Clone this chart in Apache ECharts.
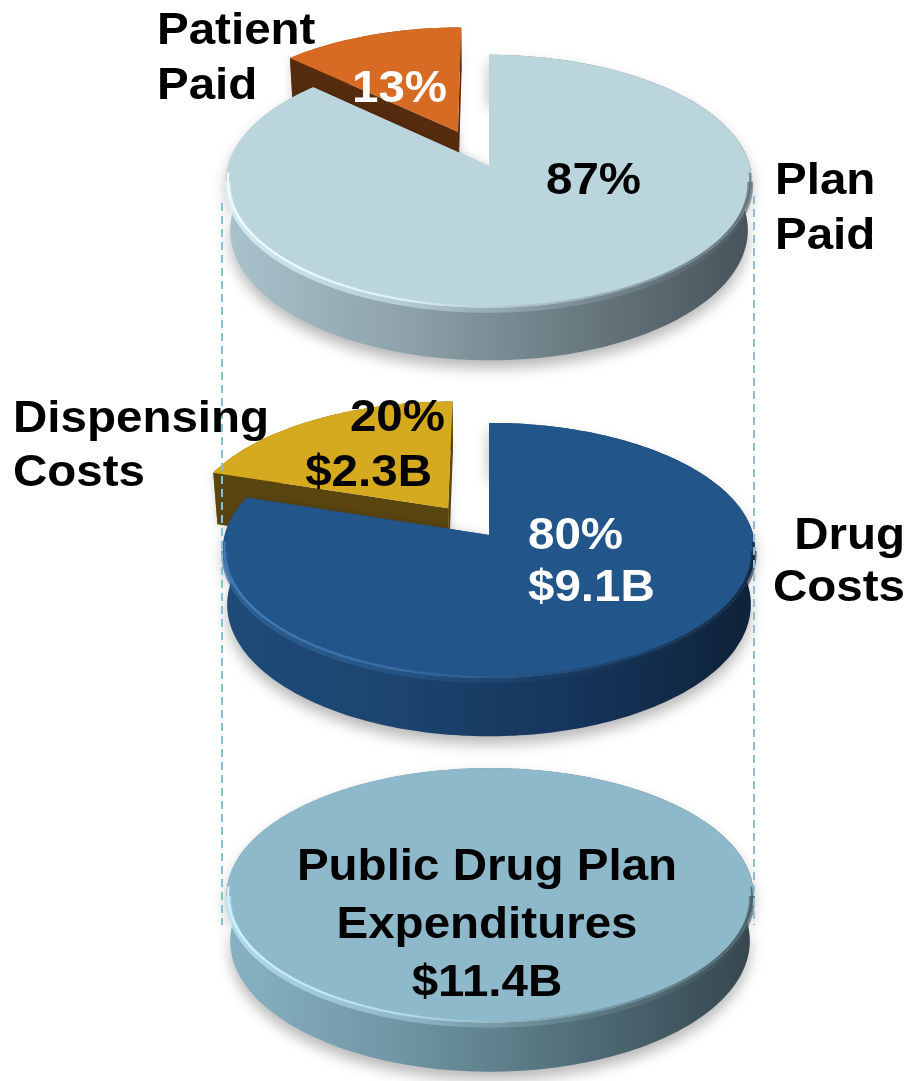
<!DOCTYPE html>
<html>
<head>
<meta charset="utf-8">
<script src="https://cdn.jsdelivr.net/npm/echarts@6/dist/echarts.min.js"></script>
<style>
  html, body { margin: 0; padding: 0; background: #ffffff; }
  #chart { width: 909px; height: 1081px; }
</style>
</head>
<body>
<div id="chart"></div>
<script>
// Who pays: share of plan spending (percent)
const payerLines = [['Patient', 'Paid'], ['Plan', 'Paid']];
const payerShares = [13, 87];

// What the money buys: share (percent) and amount (billions)
const costLines = [['Dispensing', 'Costs'], ['Drug', 'Costs']];
const costShares = [20, 80];
const costAmounts = [2.3, 9.1];

// Total public drug plan spending (billions)
const totalLines = ['Public Drug Plan', 'Expenditures'];
const totalAmount = 11.4;

// ---- simple perspective camera for the extruded pies ----
const DEG = Math.PI / 180;
const TILT = 30 * DEG;      // camera elevation
const DIST = 7.3;           // camera distance, in pie radii
const CT = Math.cos(TILT), ST = Math.sin(TILT);

// x: right, y: up (height), z: away from viewer; returns unit screen coords
function project(x, y, z) {
  const u = y * CT + z * ST;
  const w = z * CT - y * ST;
  const k = DIST / (DIST + w);
  return [x * k, u * k];
}
const Y_MIN = -0.5, Y_MAX = 0.7;

function sliceAngles(values) {
  const total = values.reduce((a, b) => a + b, 0);
  let acc = 90;
  return values.map(v => {
    const a1 = acc;
    acc += 360 * v / total;
    return [v, a1, acc];
  });
}

const lg = stops => new echarts.graphic.LinearGradient(0, 0, 1, 0,
  stops.map((c, k) => ({ offset: k / (stops.length - 1), color: c })));

// placement of each disc: centre x, top-face centre y, radius (px), thickness (radii)
const layout = [
  { cx: 489, faceY: 166, R: 257, H: 0.215 },
  { cx: 489, faceY: 535, R: 260, H: 0.235 },
  { cx: 490, faceY: 880, R: 258, H: 0.2 }
];

const looks = [
  {
    explode: [0.31, 0],
    shadow: [false, true],
    face: ['#d76b24', '#bbd5dd'],
    cut: ['#562c0e', '#9fb6be'],
    wall: [['#b85a1e', '#7a3a12'], ['#a9c2cb', '#8ea3ab', '#6a7a81', '#47535a']],
    rimSoft: ['rgba(225,246,252,0.75)', 'rgba(205,232,240,0.6)', 'rgba(140,160,168,0.5)', 'rgba(80,94,100,0.6)'],
    rim: ['rgba(245,253,255,1)', 'rgba(225,244,250,0.9)', 'rgba(150,170,178,0.7)', 'rgba(86,100,107,0.7)']
  },
  {
    explode: [0.27, 0],
    shadow: [false, true],
    face: ['#d6aa1f', '#22558a'],
    cut: ['#5a4511', '#1c4670'],
    wall: [['#8a6c12', '#5a4511'], ['#1f4b79', '#1c446e', '#15345a', '#0e2238']],
    rimSoft: ['rgba(52,104,160,0.7)', 'rgba(45,95,150,0.55)', 'rgba(25,60,100,0.5)', 'rgba(14,34,56,0.6)'],
    rim: ['rgba(70,128,190,0.95)', 'rgba(60,112,170,0.8)', 'rgba(30,68,110,0.7)', 'rgba(14,34,56,0.7)']
  },
  {
    explode: [0],
    shadow: [true],
    face: ['#8eb9ca'],
    cut: ['#6f95a3'],
    wall: [['#88b2c3', '#6f95a3', '#516e79', '#36464e']],
    rimSoft: ['rgba(190,232,246,0.75)', 'rgba(165,206,222,0.6)', 'rgba(110,144,156,0.5)', 'rgba(61,79,87,0.6)'],
    rim: ['rgba(215,245,255,1)', 'rgba(185,225,238,0.85)', 'rgba(120,154,166,0.7)', 'rgba(61,79,87,0.7)']
  }
];

function makeRenderer(st, H) {
  return function (params, api) {
    const i = params.dataIndex;
    const a1 = api.value(1), a2 = api.value(2);
    const full = a2 - a1 >= 359.999;
    const ex = st.explode[i] || 0;
    const m = (a1 + a2) / 2 * DEG;
    const ox = ex * Math.cos(m), oz = ex * Math.sin(m);
    const P = (x, y, z) => api.coord(project(ox + x, y, oz + z));
    const arc = (y, from, to, r) => {
      const pts = [];
      const rr = r || 1;
      const n = Math.max(2, Math.ceil(to - from));
      for (let j = 0; j <= n; j++) {
        const t = (from + (to - from) * j / n) * DEG;
        pts.push(P(rr * Math.cos(t), y, rr * Math.sin(t)));
      }
      return pts;
    };
    const topArc = arc(H, a1, a2);
    const botArc = arc(0, a1, a2);
    const children = [];

    // curved outer wall
    const wallStyle = { fill: lg(st.wall[i]) };
    if (st.shadow[i]) {
      wallStyle.shadowBlur = 14;
      wallStyle.shadowOffsetY = 8;
      wallStyle.shadowColor = 'rgba(0,0,0,0.28)';
    }
    children.push({ type: 'polygon', shape: { points: topArc.concat(botArc.slice().reverse()) }, style: wallStyle });

    // radial cut walls
    if (!full) {
      [a1, a2].forEach(a => {
        const c = Math.cos(a * DEG), s = Math.sin(a * DEG);
        children.push({
          type: 'polygon',
          shape: { points: [P(0, H, 0), P(c, H, s), P(c, 0, s), P(0, 0, 0)] },
          style: { fill: st.cut[i], shadowBlur: 8, shadowColor: 'rgba(0,0,0,0.18)' }
        });
      });
    }

    // top face
    children.push({
      type: 'polygon',
      shape: { points: full ? topArc : [P(0, H, 0)].concat(topArc) },
      style: { fill: st.face[i] }
    });

    // rounded bevel along the near rim
    const f1 = Math.max(a1, 186), f2 = Math.min(a2, 354);
    if (f2 > f1) {
      children.push({
        type: 'polyline',
        shape: { points: arc(H - 0.012, f1, f2, 0.995) },
        style: { stroke: lg(st.rimSoft), lineWidth: 6, fill: null }
      });
      children.push({
        type: 'polyline',
        shape: { points: arc(H, Math.max(a1, 183), Math.min(a2, 357), 0.994) },
        style: { stroke: lg(st.rim), lineWidth: 2, fill: null }
      });
    }
    return { type: 'group', children };
  };
}

const grids = layout.map(p => {
  const faceUy = project(0, p.H, 0)[1];
  return {
    left: p.cx - p.R,
    width: 2 * p.R,
    top: p.faceY - (Y_MAX - faceUy) * p.R,
    height: (Y_MAX - Y_MIN) * p.R,
    containLabel: false,
    outerBoundsMode: 'none'
  };
});
const axisOff = { type: 'value', min: -1, max: 1, show: false };

const seriesData = [sliceAngles(payerShares), sliceAngles(costShares), sliceAngles([totalAmount])];
const series = seriesData.map((d, k) => ({
  type: 'custom',
  coordinateSystem: 'cartesian2d',
  xAxisIndex: k,
  yAxisIndex: k,
  data: d,
  clip: false,
  silent: true,
  animation: false,
  renderItem: makeRenderer(looks[k], layout[k].H)
}));

// ---- text ----
const FS = 44, SX = 1.08;
const FONT = `bold ${FS}px "Liberation Sans", Arial, Helvetica, sans-serif`;
function label(text, x, baseline, align, color) {
  return {
    type: 'text', x: x, y: baseline - 0.31 * FS, scaleX: SX, z: 20,
    style: {
      text: text, fill: color, font: FONT,
      align: align, verticalAlign: 'middle',
      textAlign: align, textVerticalAlign: 'middle'
    }
  };
}
const pct = v => `${v}%`;
const bn = v => `$${v.toFixed(1)}B`;

const texts = [
  label(payerLines[0][0], 157, 45, 'left', '#000'),
  label(payerLines[0][1], 157, 100, 'left', '#000'),
  label(pct(payerShares[0]), 352, 103, 'left', '#fff'),
  label(pct(payerShares[1]), 546, 195, 'left', '#000'),
  label(payerLines[1][0], 775, 195, 'left', '#000'),
  label(payerLines[1][1], 775, 250, 'left', '#000'),

  label(costLines[0][0], 13, 433, 'left', '#000'),
  label(costLines[0][1], 13, 487, 'left', '#000'),
  label(pct(costShares[0]), 445, 432, 'right', '#000'),
  label(bn(costAmounts[0]), 432, 487, 'right', '#000'),
  label(pct(costShares[1]), 528, 550, 'left', '#fff'),
  label(bn(costAmounts[1]), 528, 602, 'left', '#fff'),
  label(costLines[1][0], 905, 550, 'right', '#000'),
  label(costLines[1][1], 905, 602, 'right', '#000'),

  label(totalLines[0], 487, 881, 'center', '#000'),
  label(totalLines[1], 487, 939, 'center', '#000'),
  label(bn(totalAmount), 487, 997, 'center', '#000')
];

// dashed guides linking the stacked discs
const guideStyle = { stroke: '#8dbfd0', lineWidth: 2, lineDash: [8, 5] };
const guides = [
  { type: 'line', z: 15, shape: { x1: 222, y1: 203, x2: 222, y2: 925 }, style: guideStyle },
  { type: 'line', z: 15, shape: { x1: 754, y1: 196, x2: 754, y2: 925 }, style: guideStyle }
];

const chart = echarts.init(document.getElementById('chart'), null, { renderer: 'canvas' });
chart.setOption({
  backgroundColor: '#ffffff',
  animation: false,
  grid: grids,
  xAxis: grids.map((g, k) => Object.assign({ gridIndex: k }, axisOff)),
  yAxis: grids.map((g, k) => Object.assign({ gridIndex: k }, axisOff, { min: Y_MIN, max: Y_MAX })),
  series: series,
  graphic: guides.concat(texts)
});
</script>
</body>
</html>
